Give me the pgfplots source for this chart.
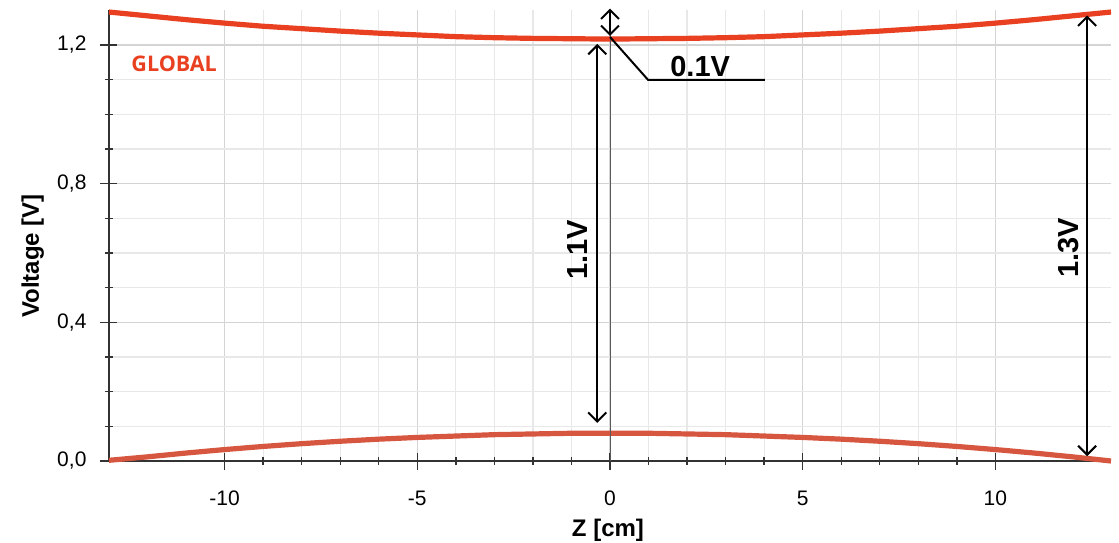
\documentclass[border=0pt]{standalone}
\usepackage{fontspec}
\setmainfont{Liberation Sans}
\newfontfamily\opensans{Open Sans}
\usepackage{pgfplots}
\pgfplotsset{compat=1.18}
\usetikzlibrary{arrows.meta}

\definecolor{topred}{RGB}{232,64,32}
\definecolor{botred}{RGB}{214,86,64}
\definecolor{axisgray}{RGB}{51,51,51}

\pgfplotstableread{
z V
-13 1.295
-12 1.284
-11 1.273
-10 1.263
-9 1.254
-8 1.247
-7 1.240
-6 1.234
-5 1.229
-4 1.224
-3 1.221
-2 1.219
-1 1.218
0 1.217
1 1.218
2 1.219
3 1.221
4 1.224
5 1.229
6 1.234
7 1.240
8 1.247
9 1.254
10 1.263
11 1.273
12 1.284
13 1.295
}\toptable

\pgfplotstableread{
z V
-13 0.002
-12 0.012
-11 0.023
-10 0.033
-9 0.042
-8 0.050
-7 0.057
-6 0.063
-5 0.068
-4 0.072
-3 0.076
-2 0.078
-1 0.080
0 0.080
1 0.080
2 0.078
3 0.076
4 0.072
5 0.068
6 0.063
7 0.057
8 0.050
9 0.042
10 0.033
11 0.023
12 0.012
13 0.000
}\bottable

\begin{document}
\begin{tikzpicture}[
    arr/.style={line width=1pt, black,
      {Straight Barb[length=4.5pt,width=9pt]}-{Straight Barb[length=4.5pt,width=9pt]}},
    lbl/.style={font=\fontsize{14.5}{16}\selectfont\bfseries, black}]
  \begin{axis}[
      scale only axis,
      width=501pt, height=225.35pt,
      xmin=-13, xmax=13, ymin=0, ymax=1.3,
      axis x line=bottom, axis y line=left,
      axis line style={-, axisgray, line width=1pt},
      xtick={-10,-5,0,5,10}, minor x tick num=4,
      ytick={0,0.4,0.8,1.2}, minor y tick num=3,
      tick align=center,
      major tick length=8.5pt, minor tick length=4pt,
      tick style={axisgray, line width=0.7pt},
      grid=both,
      major grid style={draw=black!17, line width=0.6pt},
      minor grid style={draw=black!9, line width=0.6pt},
      ticklabel style={font=\fontsize{10.5}{12}\selectfont, text=black},
      /pgf/number format/assume math mode=true,
      yticklabel style={xshift=-3.5pt, /pgf/number format/.cd, fixed, fixed zerofill, precision=1, use comma},
      xticklabel style={yshift=-7pt},
      xlabel={Z [cm]}, ylabel={Voltage [V]},
      xlabel style={font=\fontsize{12}{14}\selectfont\bfseries,
        at={(axis description cs:0.498,-0.154)}, anchor=center},
      ylabel style={font=\fontsize{12}{14}\selectfont\bfseries,
        at={(axis description cs:-0.076,0.455)}, anchor=center},
      clip=false,
    ]
    \addplot[topred, line width=2.6pt] table[x=z, y=V] {\toptable};
    \addplot[botred, line width=2.6pt] table[x=z, y=V] {\bottable};

    \draw[black!65, line width=0.5pt] (axis cs:0,0) -- (axis cs:0,1.3);

    \node[anchor=west, text=topred, font=\opensans\fontsize{10.75}{12}\selectfont\bfseries]
      at (axis cs:-12.6,1.145) {GLOBAL};

    \draw[arr] (axis cs:-0.33,1.203) -- (axis cs:-0.33,0.11);
    \node[lbl, rotate=90] at (axis cs:-0.83,0.61) {1.1V};

    \draw[arr] (axis cs:0,1.305) -- (axis cs:0,1.226);
    \draw[black, line width=1pt] (axis cs:0,1.223) -- (axis cs:0.99,1.099) -- (axis cs:4.02,1.099);
    \node[lbl] at (axis cs:2.34,1.139) {0.1V};

    \draw[arr] (axis cs:12.38,1.285) -- (axis cs:12.38,0.014);
    \node[lbl, rotate=90] at (axis cs:11.91,0.614) {1.3V};
  \end{axis}
  \pgfresetboundingbox
  \path[use as bounding box] (-54.5pt,-40.5pt) rectangle (505pt,230.5pt);
\end{tikzpicture}
\end{document}
